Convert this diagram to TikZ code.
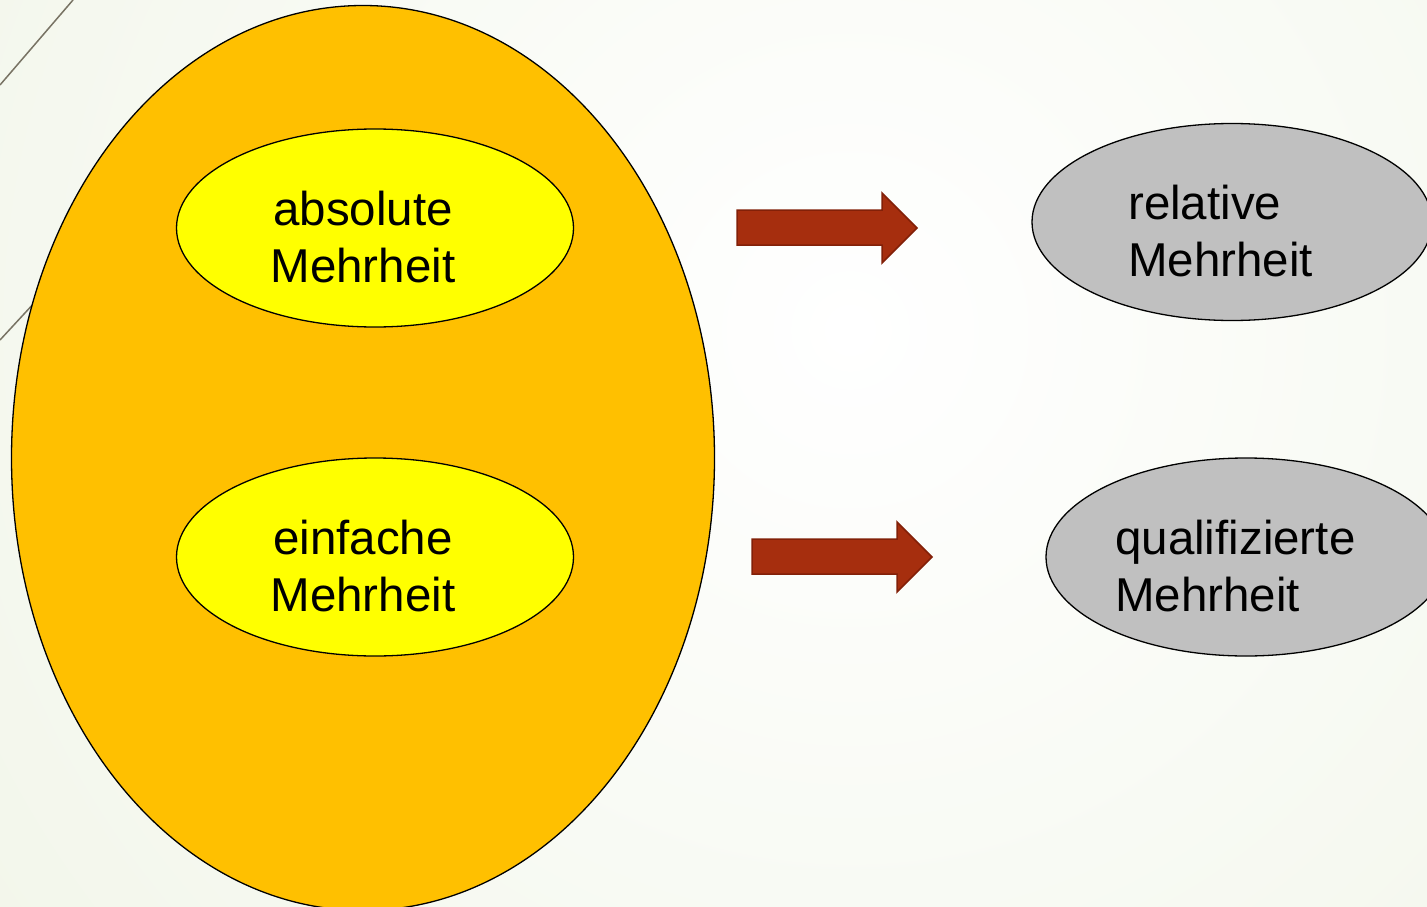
\documentclass[tikz,border=0pt]{standalone}
\usepackage{fontspec}
\setmainfont{Liberation Sans}
\usetikzlibrary{shapes.geometric}
\definecolor{bggreen}{RGB}{232,239,218}
\definecolor{orangefill}{RGB}{255,192,0}
\definecolor{yellowfill}{RGB}{255,255,0}
\definecolor{greyfill}{RGB}{192,192,192}
\definecolor{arrowfill}{RGB}{166,46,14}
\definecolor{arrowline}{RGB}{130,32,8}
\definecolor{thinline}{RGB}{120,115,100}
\tikzset{
  oval/.style={ellipse, draw=black, line width=1.3pt, inner sep=0pt},
  label text/.style={font=\fontsize{47.5}{57}\selectfont, inner sep=0pt, text=black},
  fat arrow/.style={fill=arrowfill, draw=arrowline, line width=1.5pt, line join=miter},
}
\begin{document}
\begin{tikzpicture}[x=1pt,y=-1pt]
\useasboundingbox (0,0) rectangle (1427,907);
% background
\fill[bggreen] (0,0) rectangle (1427,907);
\begin{scope}
\clip (0,0) rectangle (1427,907);
\shade[inner color=white, outer color=bggreen] (850,330) circle (1900);
\draw[thinline, line width=1.5pt] (73,0) -- (0,85);
\draw[thinline, line width=1.5pt] (120,210) -- (0,340);
% big orange oval
\node[oval, fill=orangefill, minimum width=703, minimum height=905] (big) at (363,458) {};
\end{scope}
% yellow ovals
\node[oval, fill=yellowfill, minimum width=397, minimum height=198] (abs) at (375,228) {};
\node[oval, fill=yellowfill, minimum width=397, minimum height=198] (einf) at (375,557) {};
\node[label text, align=center] (abst) at (363,237) {absolute\\Mehrheit};
\node[label text, align=center] (einft) at (363,566) {einfache\\Mehrheit};
% grey ovals
\node[oval, fill=greyfill, minimum width=400, minimum height=197] (rel) at (1232,222) {};
\node[oval, fill=greyfill, minimum width=400, minimum height=198] (qual) at (1246,557) {};
\node[label text, align=left, anchor=west] (relt) at (1128,231) {relative\\Mehrheit};
\node[label text, align=left, anchor=west] (qualt) at (1115,566) {qualifizierte\\Mehrheit};
% arrows
\draw[fat arrow] (737,210) -- (882,210) -- (882,193) -- (917,228) -- (882,263) -- (882,245) -- (737,245) -- cycle;
\draw[fat arrow] (752,539) -- (897,539) -- (897,522) -- (932,557) -- (897,592) -- (897,574) -- (752,574) -- cycle;
\end{tikzpicture}
\end{document}
